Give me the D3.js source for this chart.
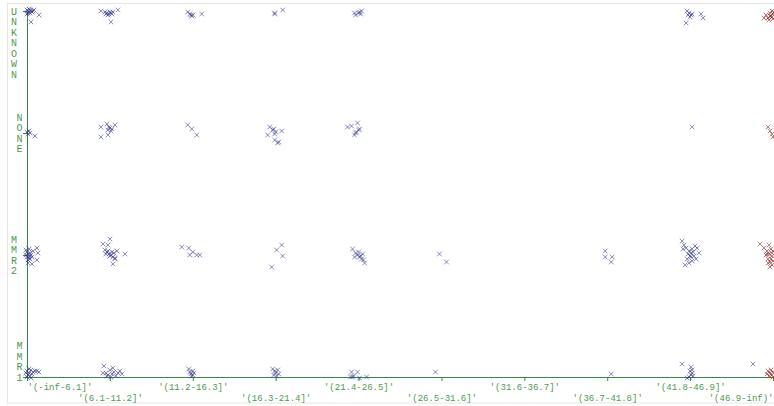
<!DOCTYPE html>
<html>
<head>
<meta charset="utf-8">
<script src="https://cdn.jsdelivr.net/npm/d3@7"></script>
<style>
  html, body { margin: 0; padding: 0; background: #fff; }
  svg { display: block; }
</style>
</head>
<body>
<div id="chart"></div>
<script>
// nominal bins on the x axis
const xBins = ["'(-inf-6.1]'", "'(6.1-11.2]'", "'(11.2-16.3]'", "'(16.3-21.4]'", "'(21.4-26.5]'",
  "'(26.5-31.6]'", "'(31.6-36.7]'", "'(36.7-41.8]'", "'(41.8-46.9]'", "'(46.9-inf)'"];
// nominal values on the y axis, bottom to top
const yValues = ['MMR1', 'MMR2', 'NONE', 'UNKNOWN'];
const classes = ['blue', 'red'];

// each point: [xBin, class, jitterX, jitterY] (jitter in px)
const rowUnknown = [
  [0,0,0,-1],[0,0,1,0],[0,0,2,1],[0,0,3,-1],[0,0,4,0],[0,0,5,1],[0,0,6,0],[0,0,1,2],[0,0,3,2],[0,0,7,-1],[0,0,2,-2],[0,0,12,4],[0,0,4,11],[0,0,0,3],
  [1,0,-9,0],[1,0,-5,1],[1,0,-3,2],[1,0,-1,3],[1,0,1,2],[1,0,3,1],[1,0,-2,4],[1,0,0,1],[1,0,2,3],[1,0,8,-1],[1,0,1,11],[1,0,-4,3],
  [2,0,-5,1],[2,0,-3,3],[2,0,-1,5],[2,0,0,4],[2,0,-2,4],[2,0,9,3],
  [3,0,-1,2],[3,0,-1,3],[3,0,7,-1],
  [4,0,-4,2],[4,0,-3,4],[4,0,1,1],[4,0,2,3],[4,0,3,0],[4,0,0,2],
  [8,0,-3,0],[8,0,-1,2],[8,0,1,4],[8,0,0,6],[8,0,2,3],[8,0,-2,4],[8,0,11,3],[8,0,13,7],[8,0,-4,12],
  [9,1,-7,4],[9,1,-5,7],[9,1,-3,2],[9,1,-1,0],[9,1,-2,5],[9,1,0,3],[9,1,-9,7],[9,1,-4,9],[9,1,-1,6],[9,1,1,1],[9,1,-3,5],[9,1,0,8]
];
const rowNone = [
  [0,0,0,-1],[0,0,2,-2],[0,0,3,0],[0,0,1,1],[0,0,8,3],
  [1,0,-9,-6],[1,0,-3,-9],[1,0,0,-5],[1,0,5,-8],[1,0,-2,-3],[1,0,-9,4],[1,0,-2,2],[1,0,2,-4],[1,0,1,-2],[1,0,-1,-6],
  [2,0,-5,-8],[2,0,-1,-4],[2,0,4,2],
  [3,0,-6,-6],[3,0,-3,-3],[3,0,-1,1],[3,0,6,-2],[3,0,-8,2],[3,0,-1,7],[3,0,2,10],[3,0,-2,-4],[3,0,0,-1],[3,0,3,9],
  [4,0,-11,-6],[4,0,-7,-7],[4,0,-1,-10],[4,0,1,-4],[4,0,-2,-1],[4,0,-4,2],[4,0,0,-3],[4,0,-3,0],
  [8,0,2,-6],
  [9,1,-5,-6],[9,1,-3,-2],[9,1,-1,1],[9,1,0,4]
];
const rowMmr2 = [
  [0,0,0,-3],[0,0,1,-1],[0,0,2,1],[0,0,3,-2],[0,0,4,0],[0,0,0,2],[0,0,2,3],[0,0,-1,0],[0,0,3,4],[0,0,1,5],[0,0,5,2],[0,0,10,-7],[0,0,11,-2],[0,0,10,5],[0,0,5,9],[0,0,1,8],[0,0,6,-4],[0,0,-1,-5],[0,0,2,-6],
  [1,0,-7,-11],[1,0,0,-16],[1,0,-2,-10],[1,0,-5,-5],[1,0,-3,-3],[1,0,-1,-1],[1,0,1,0],[1,0,3,2],[1,0,5,3],[1,0,-4,-1],[1,0,2,-3],[1,0,7,-4],[1,0,15,-1],[1,0,3,9],[1,0,5,4],[1,0,0,1],[1,0,-2,-4],[1,0,4,-2],
  [2,0,-11,-8],[2,0,-4,-7],[2,0,-3,0],[2,0,0,-3],[2,0,4,0],[2,0,7,0],
  [3,0,6,-10],[3,0,1,-5],[3,0,7,1],[3,0,-4,12],
  [4,0,-6,-6],[4,0,-3,-2],[4,0,-1,0],[4,0,1,2],[4,0,3,4],[4,0,5,5],[4,0,6,8],[4,0,2,1],[4,0,-4,2],[4,0,4,-1],[4,0,0,-3],
  [5,0,-2,-1],[5,0,5,7],
  [7,0,-2,-4],[7,0,-2,2],[7,0,5,2],[7,0,4,7],
  [8,0,-8,-14],[8,0,-6,-10],[8,0,-4,-7],[8,0,-1,-4],[8,0,1,-2],[8,0,2,-6],[8,0,4,1],[8,0,7,-7],[8,0,9,-2],[8,0,6,4],[8,0,-3,4],[8,0,-1,8],[8,0,-5,10],[8,0,2,6],[8,0,0,1],[8,0,-2,-1],[8,0,3,-3],[8,0,5,-9],[8,0,-7,-6],[8,0,1,2],
  [9,1,-13,-11],[9,1,-9,-7],[9,1,-6,-4],[9,1,-4,-1],[9,1,-2,-6],[9,1,-1,1],[9,1,-5,4],[9,1,-3,7],[9,1,-1,10],[9,1,-7,0],[9,1,-4,-10],[9,1,0,-4],[9,1,-2,4],[9,1,-1,-2],[9,1,-5,8],[9,1,-3,12],[9,1,0,6],[9,1,-6,-1]
];
const rowMmr1 = [
  [0,0,0,-6],[0,0,2,-4],[0,0,4,-7],[0,0,1,-2],[0,0,3,-1],[0,0,6,-5],[0,0,8,-6],[0,0,10,-6],[0,0,12,-5],[0,0,5,-3],[0,0,2,-8],[0,0,0,0],[0,0,4,1],[0,0,-1,-4],
  [1,0,-6,-11],[1,0,-4,-4],[1,0,-2,-2],[1,0,0,-7],[1,0,2,-3],[1,0,4,-5],[1,0,6,-1],[1,0,8,-4],[1,0,10,-6],[1,0,-7,-4],[1,0,1,0],[1,0,3,-9],[1,0,12,-3],[1,0,-3,-1],
  [2,0,-4,-8],[2,0,-3,-5],[2,0,-2,-3],[2,0,0,-6],[2,0,1,-4],[2,0,-1,-1],[2,0,0,-2],
  [3,0,-3,-8],[3,0,-1,-6],[3,0,0,-4],[3,0,2,-7],[3,0,-2,-2],[3,0,1,-1],[3,0,3,-3],
  [4,0,-7,-5],[4,0,-1,-5],[4,0,-8,0],[4,0,-6,0],[4,0,-5,-1],[4,0,8,0],[4,0,1,1],
  [5,0,-6,-5],
  [7,0,4,-3],
  [8,0,-8,-13],[8,0,1,-10],[8,0,0,-6],[8,0,2,-4],[8,0,1,-2],[8,0,-1,0],[8,0,3,-1],[8,0,-3,1],[8,0,2,-7],
  [9,0,-20,-13],
  [9,1,-5,-6],[9,1,-3,-4],[9,1,-6,-3],[9,1,-2,-7],[9,1,0,-5],[9,1,-1,-2],[9,1,-4,-1],[9,1,0,0]
];
const rows = [rowMmr1, rowMmr2, rowNone, rowUnknown];

const width = 774, height = 406;
const axisColor = '#2f8f3c';
const labelColor = '#4b9b52';
const classColor = { blue: '#2a2a86', red: '#8e1c1c' };
const monoFont = '"Liberation Mono", "Courier New", "DejaVu Sans Mono", monospace';

const svg = d3.select('#chart').append('svg')
  .attr('width', width)
  .attr('height', height);

// faint panel frame
svg.append('rect')
  .attr('x', 7.5).attr('y', 3.5)
  .attr('width', 780).attr('height', 399.5)
  .attr('fill', 'none')
  .attr('stroke', '#e6e6e6');

const x = d3.scalePoint().domain(xBins).range([27, 773]);
const y = d3.scalePoint().domain(yValues).range([377, 11]);

// x axis with staggered labels
const xAxis = svg.append('g')
  .attr('transform', `translate(0,${y('MMR1')})`)
  .attr('color', axisColor)
  .call(d3.axisBottom(x).tickSize(4).tickSizeOuter(0));
xAxis.selectAll('.tick text')
  .attr('font-family', monoFont)
  .attr('font-size', '9px')
  .attr('fill', labelColor)
  .attr('dy', null)
  .attr('y', (d, i) => (i % 2 ? 24 : 13))
  .attr('text-anchor', (d, i) => (i === 0 ? 'start' : i === xBins.length - 1 ? 'end' : 'middle'));

// y axis: ticks only, labels drawn letter by letter
svg.append('g')
  .attr('transform', `translate(${x(xBins[0])},0)`)
  .attr('color', axisColor)
  .call(d3.axisLeft(y).tickSize(4).tickSizeOuter(0).tickFormat(''));

const lineH = 10.5;
yValues.forEach((v, i) => {
  const letters = v.split('');
  const n = letters.length;
  let top;
  if (i === yValues.length - 1) top = y(v);
  else if (i === 0) top = y(v) - (n - 1) * lineH;
  else top = y(v) - (n - 1) * lineH / 2;
  const lx = i % 2 ? 14 : 19.5;
  svg.append('text')
    .attr('font-family', monoFont)
    .attr('font-size', '10px')
    .attr('fill', labelColor)
    .attr('text-anchor', 'middle')
    .selectAll('tspan')
    .data(letters)
    .join('tspan')
    .attr('x', lx)
    .attr('y', (d, k) => top + k * lineH + 3.5)
    .text(d => d);
});

// points as x crosses
const pts = [];
rows.forEach((row, yi) => {
  row.forEach(([xb, c, dx, dy]) => {
    pts.push({ cx: x(xBins[xb]) + dx, cy: y(yValues[yi]) + dy, cls: classes[c] });
  });
});

const r = 2.3;
svg.append('g')
  .selectAll('path')
  .data(pts)
  .join('path')
  .attr('d', d => `M${d.cx - r},${d.cy - r}L${d.cx + r},${d.cy + r}M${d.cx - r},${d.cy + r}L${d.cx + r},${d.cy - r}`)
  .attr('stroke', d => classColor[d.cls])
  .attr('stroke-width', 1)
  .attr('stroke-opacity', 0.55)
  .attr('fill', 'none');
</script>
</body>
</html>
